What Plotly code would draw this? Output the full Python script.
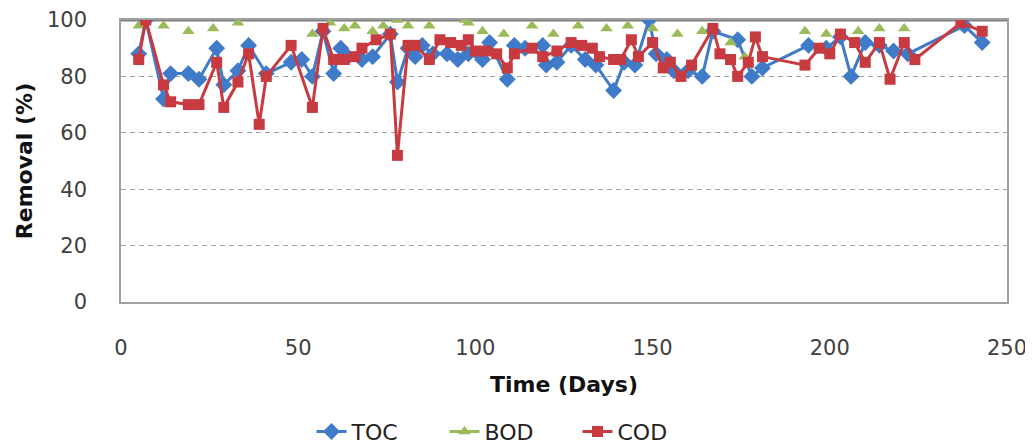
import plotly.graph_objects as go

# TOC removal (%)
toc_days = [5, 7, 12, 14, 19, 22, 27, 29, 33, 36, 41, 48, 51, 54, 57, 60, 62, 64, 68, 71,
            76, 78, 81, 83, 85, 88, 92, 95, 98, 102, 104, 109, 111, 114, 119, 120, 123, 127,
            131, 134, 139, 142, 145, 149, 151, 154, 156, 160, 164, 167, 174, 178, 181, 194,
            199, 203, 206, 210, 214, 218, 222, 238, 243]
toc_vals = [88, 100, 72, 81, 81, 79, 90, 77, 82, 91, 81, 85, 86, 80, 96, 81, 90, 87, 86, 87,
            95, 78, 90, 87, 91, 88, 88, 86, 88, 86, 92, 79, 91, 90, 91, 84, 85, 91,
            86, 84, 75, 85, 84, 100, 88, 86, 82, 82, 80, 96, 93, 80, 83, 91,
            90, 94, 80, 92, 91, 89, 88, 98, 92]

# BOD removal (%)
bod_days = [5, 12, 19, 26, 33, 54, 59, 63, 66, 71, 74, 78, 81, 87, 97, 98, 102, 108, 116,
            122, 129, 137, 143, 150, 157, 164, 172, 176, 193, 199, 208, 214, 221, 237]
bod_vals = [98, 98, 96, 97, 99, 95, 99, 97, 98, 96, 98, 100, 98, 98, 100, 99, 96, 95, 98,
            95, 98, 97, 98, 97, 95, 96, 92, 87, 96, 95, 96, 97, 97, 99]

# COD removal (%)
cod_days = [5, 7, 12, 14, 19, 22, 27, 29, 33, 36, 39, 41, 48, 54, 57, 60, 63, 66, 68, 72,
            76, 78, 81, 83, 87, 90, 93, 96, 98, 100, 103, 106, 109, 111, 116, 119, 123, 127,
            130, 133, 135, 139, 141, 144, 146, 150, 153, 155, 158, 161, 167, 169, 172, 174,
            177, 179, 181, 193, 197, 200, 203, 207, 210, 214, 217, 221, 224, 237, 243]
cod_vals = [86, 100, 77, 71, 70, 70, 85, 69, 78, 88, 63, 80, 91, 69, 97, 86, 86, 87, 90, 93,
            95, 52, 91, 91, 86, 93, 92, 91, 93, 89, 89, 88, 83, 88, 90, 87, 89, 92,
            91, 90, 87, 86, 86, 93, 87, 92, 83, 85, 80, 84, 97, 88, 86, 80,
            85, 94, 87, 84, 90, 88, 95, 92, 85, 92, 79, 92, 86, 99, 96]

x_ticks = [0, 50, 100, 150, 200, 250]
y_ticks = [0, 20, 40, 60, 80, 100]

# BOD points are not joined in the original: insert gaps between them
bod_x, bod_y = [], []
for d, v in zip(bod_days, bod_vals):
    bod_x += [d, None]
    bod_y += [v, None]

BLUE = "#3F7BC8"
GREEN = "#9BBB59"
RED = "#C73A3F"
FONT = "DejaVu Sans"

fig = go.Figure()
fig.add_trace(go.Scatter(x=toc_days, y=toc_vals, name="TOC", mode="lines+markers",
                         line=dict(color=BLUE, width=3),
                         marker=dict(symbol="diamond", size=13, color=BLUE)))
fig.add_trace(go.Scatter(x=bod_x, y=bod_y, name="BOD", mode="lines+markers",
                         connectgaps=False,
                         line=dict(color=GREEN, width=3),
                         marker=dict(symbol="triangle-up", size=11, color=GREEN)))
fig.add_trace(go.Scatter(x=cod_days, y=cod_vals, name="COD", mode="lines+markers",
                         line=dict(color=RED, width=3),
                         marker=dict(symbol="square", size=11, color=RED)))

fig.update_layout(
    width=1033, height=447,
    margin=dict(l=113, r=34, t=12, b=153, autoexpand=False),
    paper_bgcolor="white", plot_bgcolor="white",
    font=dict(family=FONT, size=21, color="#404040"),
    showlegend=True,
    legend=dict(orientation="h", x=0.215, xanchor="left", y=-0.46, yanchor="middle",
                font=dict(size=22, color="#222222"), entrywidth=88,
                entrywidthmode="pixels", tracegroupgap=0),
)
fig.update_xaxes(range=[0, 250], tickvals=x_ticks, showgrid=False, zeroline=False,
                 showline=True, linecolor="#A0A0A0", linewidth=1.5, mirror=True,
                 ticks="", ticklabelstandoff=26, automargin=False,
                 title=dict(text="<b>Time (Days)</b>", font=dict(size=22, color="#111111"),
                            standoff=18))
fig.update_yaxes(range=[0, 100], tickvals=y_ticks, showgrid=True, gridcolor="#A0A0A0",
                 griddash="5px,4px", gridwidth=1, zeroline=False,
                 showline=True, linecolor="#A0A0A0", linewidth=1.5, mirror=True,
                 ticks="", ticklabelstandoff=28, automargin=False,
                 title=dict(text="<b>Removal (%)</b>", font=dict(size=22, color="#111111"),
                            standoff=8))
# darker top border (the 100 line)
fig.add_shape(type="line", xref="paper", yref="y", x0=0, x1=1, y0=100, y1=100,
              line=dict(color="#7F7F7F", width=3), layer="below")

fig.write_html("out.html")
